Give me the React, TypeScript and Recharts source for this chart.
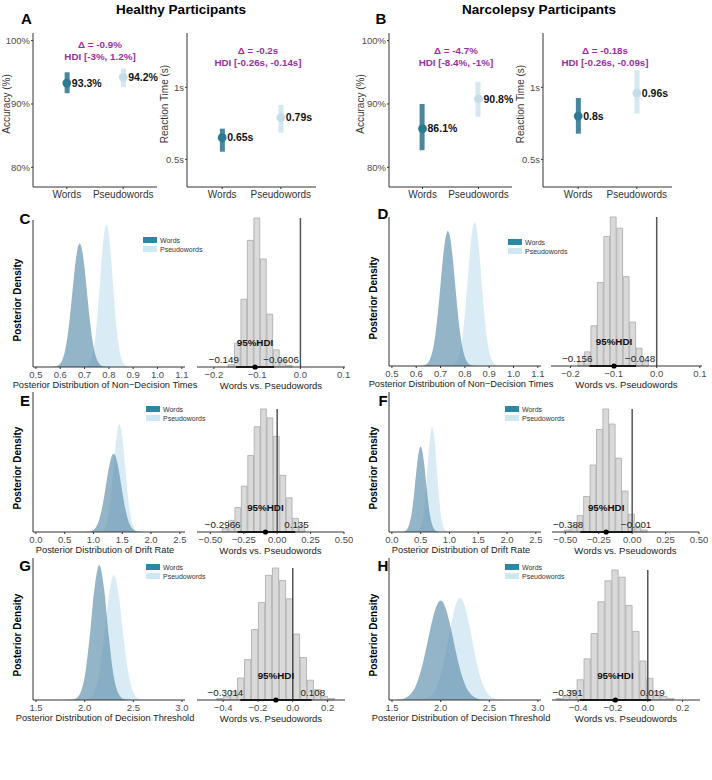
import React from 'react';
import {
  ComposedChart,
  Area,
  Bar,
  Cell,
  Line,
  XAxis,
  YAxis,
  ReferenceLine,
  ReferenceDot,
  LabelList,
} from 'recharts';

const FONT = '"Liberation Sans", Arial, Helvetica, sans-serif';
const MINUS = '\u2212';

const conditions = ['Words', 'Pseudowords'];

// posterior means and 95% HDI of accuracy / reaction time
const accHealthyMean = [93.3, 94.2];
const accHealthyLow = [91.7, 92.7];
const accHealthyHigh = [95.0, 95.6];
const rtHealthyMean = [0.65, 0.79];
const rtHealthyLow = [0.553, 0.686];
const rtHealthyHigh = [0.713, 0.877];
const accNarcoMean = [86.1, 90.8];
const accNarcoLow = [82.7, 88.0];
const accNarcoHigh = [90.0, 93.5];
const rtNarcoMean = [0.8, 0.96];
const rtNarcoLow = [0.678, 0.818];
const rtNarcoHigh = [0.926, 1.118];

const accTicks = [80, 90, 100];
const rtTicks = [0.5, 1];

// non-decision time posteriors
const ndtHealthyGrid = [0.56, 0.57, 0.58, 0.59, 0.6, 0.61, 0.62, 0.63, 0.64, 0.65, 0.66, 0.67, 0.68, 0.69, 0.7, 0.71, 0.72, 0.73, 0.74, 0.75, 0.76, 0.77, 0.78, 0.79, 0.8, 0.81, 0.82, 0.83, 0.84, 0.85, 0.86, 0.87, 0.88, 0.89, 0.9];
const ndtHealthyWords = [0, 0.001, 0.003, 0.009, 0.024, 0.055, 0.113, 0.209, 0.345, 0.51, 0.673, 0.795, 0.84, 0.795, 0.673, 0.51, 0.345, 0.209, 0.113, 0.055, 0.024, 0.009, 0.003, 0.001, 0, 0, 0, 0, 0, 0, 0, 0, 0, 0, 0];
const ndtHealthyPseudo = [0, 0, 0, 0, 0, 0, 0, 0, 0, 0, 0, 0, 0, 0.001, 0.002, 0.009, 0.026, 0.068, 0.152, 0.297, 0.499, 0.722, 0.901, 0.97, 0.901, 0.722, 0.499, 0.297, 0.152, 0.068, 0.026, 0.009, 0.002, 0.001, 0];
const ndtNarcoGrid = [0.61, 0.62, 0.63, 0.64, 0.65, 0.66, 0.67, 0.68, 0.69, 0.7, 0.71, 0.72, 0.73, 0.74, 0.75, 0.76, 0.77, 0.78, 0.79, 0.8, 0.81, 0.82, 0.83, 0.84, 0.85, 0.86, 0.87, 0.88, 0.89, 0.9, 0.91, 0.92, 0.93, 0.94, 0.95, 0.96];
const ndtNarcoWords = [0, 0.001, 0.004, 0.01, 0.026, 0.06, 0.122, 0.226, 0.372, 0.55, 0.726, 0.857, 0.906, 0.857, 0.726, 0.55, 0.372, 0.226, 0.122, 0.06, 0.026, 0.01, 0.004, 0.001, 0, 0, 0, 0, 0, 0, 0, 0, 0, 0, 0, 0];
const ndtNarcoPseudo = [0, 0, 0, 0, 0, 0, 0, 0, 0, 0, 0, 0, 0.001, 0.002, 0.006, 0.016, 0.043, 0.098, 0.196, 0.348, 0.544, 0.749, 0.906, 0.966, 0.906, 0.749, 0.544, 0.348, 0.196, 0.098, 0.043, 0.016, 0.006, 0.002, 0.001, 0];

// drift rate posteriors
const driftHealthyGrid = [0.85, 0.9, 0.95, 1.0, 1.05, 1.1, 1.15, 1.2, 1.25, 1.3, 1.35, 1.4, 1.45, 1.5, 1.55, 1.6, 1.65, 1.7, 1.75, 1.8, 1.85];
const driftHealthyWords = [0, 0.001, 0.005, 0.015, 0.039, 0.088, 0.171, 0.288, 0.417, 0.52, 0.56, 0.52, 0.417, 0.288, 0.171, 0.088, 0.039, 0.015, 0.005, 0.001, 0];
const driftHealthyPseudo = [0, 0, 0, 0, 0, 0.002, 0.008, 0.034, 0.104, 0.25, 0.467, 0.679, 0.77, 0.679, 0.467, 0.25, 0.104, 0.034, 0.008, 0.002, 0];
const driftNarcoGrid = [0.15, 0.2, 0.25, 0.3, 0.35, 0.4, 0.45, 0.5, 0.55, 0.6, 0.65, 0.7, 0.75, 0.8, 0.85, 0.9, 0.95, 1.0, 1.05];
const driftNarcoWords = [0, 0.002, 0.013, 0.052, 0.152, 0.329, 0.523, 0.61, 0.523, 0.329, 0.152, 0.052, 0.013, 0.002, 0, 0, 0, 0, 0];
const driftNarcoPseudo = [0, 0, 0, 0, 0, 0.001, 0.006, 0.033, 0.129, 0.344, 0.617, 0.75, 0.617, 0.344, 0.129, 0.033, 0.006, 0.001, 0];

// decision threshold posteriors
const bndHealthyGrid = [1.8, 1.85, 1.9, 1.95, 2.0, 2.05, 2.1, 2.15, 2.2, 2.25, 2.3, 2.35, 2.4, 2.45, 2.5, 2.55, 2.6, 2.65];
const bndHealthyWords = [0, 0.001, 0.007, 0.042, 0.163, 0.435, 0.782, 0.95, 0.782, 0.435, 0.163, 0.042, 0.007, 0.001, 0, 0, 0, 0];
const bndHealthyPseudo = [0, 0, 0, 0, 0.002, 0.011, 0.055, 0.186, 0.441, 0.74, 0.88, 0.74, 0.441, 0.186, 0.055, 0.011, 0.002, 0];
const bndNarcoGrid = [1.45, 1.5, 1.55, 1.6, 1.65, 1.7, 1.75, 1.8, 1.85, 1.9, 1.95, 2.0, 2.05, 2.1, 2.15, 2.2, 2.25, 2.3, 2.35, 2.4, 2.45, 2.5, 2.55, 2.6, 2.65, 2.7, 2.75];
const bndNarcoWords = [0, 0, 0.002, 0.006, 0.019, 0.049, 0.11, 0.214, 0.36, 0.521, 0.65, 0.7, 0.65, 0.521, 0.36, 0.214, 0.11, 0.049, 0.019, 0.006, 0.002, 0, 0, 0, 0, 0, 0];
const bndNarcoPseudo = [0, 0, 0, 0, 0, 0, 0.001, 0.003, 0.01, 0.032, 0.082, 0.179, 0.33, 0.509, 0.66, 0.72, 0.66, 0.509, 0.33, 0.179, 0.082, 0.032, 0.01, 0.003, 0.001, 0, 0];

// posterior differences (words - pseudowords): bin centres and counts
const ndtHealthyDiffBins = [-0.16, -0.145, -0.13, -0.115, -0.1, -0.085, -0.07, -0.055, -0.04, -0.025];
const ndtHealthyDiffCounts = [3, 32, 91, 170, 200, 145, 71, 23, 9, 2];
const ndtNarcoDiffBins = [-0.175, -0.16, -0.145, -0.13, -0.115, -0.1, -0.085, -0.07, -0.055, -0.04, -0.025];
const ndtNarcoDiffCounts = [6, 19, 54, 112, 174, 200, 185, 120, 59, 24, 6];
const driftHealthyDiffBins = [-0.388, -0.34, -0.292, -0.244, -0.196, -0.148, -0.1, -0.052, -0.004, 0.044, 0.092, 0.14, 0.188];
const driftHealthyDiffCounts = [5, 17, 36, 67, 112, 154, 180, 167, 140, 83, 50, 20, 9];
const driftNarcoDiffBins = [-0.483, -0.435, -0.387, -0.339, -0.291, -0.243, -0.195, -0.147, -0.099, -0.051, -0.003, 0.045, 0.093];
const driftNarcoDiffCounts = [3, 9, 24, 52, 98, 150, 180, 158, 108, 60, 26, 8, 3];
const bndHealthyDiffBins = [-0.417, -0.377, -0.337, -0.297, -0.257, -0.217, -0.177, -0.137, -0.097, -0.057, -0.017, 0.023, 0.063, 0.103, 0.143, 0.183, 0.223];
const bndHealthyDiffCounts = [2, 5, 12, 30, 55, 96, 133, 170, 180, 163, 138, 90, 58, 27, 14, 5, 2];
const bndNarcoDiffBins = [-0.506, -0.466, -0.426, -0.386, -0.346, -0.306, -0.266, -0.226, -0.186, -0.146, -0.106, -0.066, -0.026, 0.014, 0.054, 0.094, 0.134];
const bndNarcoDiffCounts = [2, 6, 13, 28, 57, 92, 136, 165, 180, 170, 131, 95, 54, 30, 12, 5, 2];

// lower bound, mean and upper bound of each difference
const ndtHealthyHdi = [-0.149, -0.105, -0.0606];
const ndtNarcoHdi = [-0.156, -0.099, -0.048];
const driftHealthyHdi = [-0.2966, -0.088, 0.135];
const driftNarcoHdi = [-0.388, -0.195, -0.001];
const bndHealthyHdi = [-0.3014, -0.097, 0.108];
const bndNarcoHdi = [-0.391, -0.186, 0.019];

const WORD_DOT = '#2b7a91';
const WORD_BAR = '#4a879c';
const PSEUDO_DOT = '#c3deea';
const PSEUDO_BAR = '#d3e8f1';
const WORD_FILL = '#5b8eab';
const PSEUDO_FILL = '#d9ecf6';
const WORD_KEY = '#2c87a5';
const PSEUDO_KEY = '#cfe7f3';
const PURPLE = '#9a2fa3';
const AXIS = { stroke: '#333', strokeWidth: 1 };
const tickStyle = { fontSize: 9.5, fill: '#4d4d4d', fontFamily: FONT };

const signed = (digits: number) => (v: number) =>
  (v < 0 ? MINUS : '') + Math.abs(v).toFixed(digits);

function Txt({ x, y, children, size = 10, weight = 400, color = '#000', anchor = 'middle', rotate = false }: any) {
  const tx = anchor === 'middle' ? '-50%' : anchor === 'end' ? '-100%' : '0';
  return (
    <div
      style={{
        position: 'absolute',
        left: x,
        top: y,
        transform: `translate(${tx}, -50%)${rotate ? ' rotate(-90deg)' : ''}`,
        fontSize: size,
        fontWeight: weight,
        color,
        fontFamily: FONT,
        whiteSpace: 'nowrap',
        lineHeight: 1,
      }}
    >
      {children}
    </div>
  );
}

function SummaryPanel({ x0, x1, yw, domain, ticks, unit, mean, low, high }: any) {
  const left = x0 - yw;
  const width = x1 + 13 - left;
  const data = conditions.map((name, i) => ({
    pos: i + 1,
    name,
    mean: mean[i],
    range: [low[i], high[i]],
    label: `${mean[i]}${unit}`,
  }));
  const dotColors = [WORD_DOT, PSEUDO_DOT];
  const barColors = [WORD_BAR, PSEUDO_BAR];
  return (
    <div style={{ position: 'absolute', left, top: 0 }}>
      <ComposedChart width={width} height={210} data={data} margin={{ top: 33, right: 13, bottom: 3, left: 0 }}>
        <XAxis
          type="number"
          dataKey="pos"
          domain={[0.4, 2.6]}
          ticks={[1, 2]}
          interval={0}
          tickFormatter={(v: number) => conditions[v - 1]}
          height={20}
          tickSize={2}
          axisLine={AXIS}
          tickLine={AXIS}
          tick={{ fontSize: 10, fill: '#333', fontFamily: FONT }}
        />
        <YAxis
          type="number"
          domain={domain}
          ticks={ticks}
          interval={0}
          allowDataOverflow
          width={yw}
          tickSize={2}
          tickMargin={1}
          axisLine={AXIS}
          tickLine={AXIS}
          tickFormatter={(v: number) => `${v}${unit}`}
          tick={tickStyle}
        />
        <Bar dataKey="range" barSize={5} isAnimationActive={false}>
          {data.map((d, i) => (
            <Cell key={d.name} fill={barColors[i]} />
          ))}
        </Bar>
        <Line
          dataKey="mean"
          stroke="none"
          isAnimationActive={false}
          dot={(p: any) => <circle key={`d${p.index}`} cx={p.cx} cy={p.cy} r={4.4} fill={dotColors[p.index]} />}
          activeDot={false}
        >
          <LabelList
            dataKey="label"
            content={(p: any) => (
              <text x={p.x + 5} y={p.y} dy="0.35em" fontSize={10.5} fontWeight={700} fontFamily={FONT} fill="#111">
                {p.value}
              </text>
            )}
          />
        </Line>
      </ComposedChart>
    </div>
  );
}

function DensityPanel({ x0, x1, y0, y1, domain, ticks, grid, words, pseudo }: any) {
  const yw = 33;
  const mt = 4;
  const mr = 6;
  const left = x0 - yw;
  const top = y0 - mt;
  const width = x1 + mr - left;
  const height = y1 - top + 18;
  const data = grid.map((x: number, i: number) => ({ x, words: words[i], pseudo: pseudo[i] }));
  return (
    <div style={{ position: 'absolute', left, top }}>
      <ComposedChart width={width} height={height} data={data} margin={{ top: mt, right: mr, bottom: 2, left: 0 }}>
        <XAxis
          type="number"
          dataKey="x"
          domain={domain}
          ticks={ticks}
          interval={0}
          allowDataOverflow
          tickFormatter={(v: number) => v.toFixed(1)}
          height={16}
          tickSize={2}
          axisLine={AXIS}
          tickLine={AXIS}
          tick={tickStyle}
        />
        <YAxis type="number" domain={[0, 1]} width={yw} tick={false} tickLine={false} axisLine={AXIS} />
        <Area type="monotone" dataKey="pseudo" stroke="none" fill={PSEUDO_FILL} fillOpacity={1} isAnimationActive={false} activeDot={false} />
        <Area type="monotone" dataKey="words" stroke="none" fill={WORD_FILL} fillOpacity={0.65} isAnimationActive={false} activeDot={false} />
      </ComposedChart>
    </div>
  );
}

function DiffPanel({ x0, x1, y0, y1, domain, ticks, digits, bins, counts, binWidth, hdi, loText, hiText }: any) {
  const ml = 4;
  const mr = 9;
  const mt = 2;
  const left = x0 - ml;
  const top = y0 - mt;
  const width = x1 + mr - left;
  const height = y1 - top + 18;
  const barPx = (binWidth * (x1 - x0)) / (domain[1] - domain[0]);
  const data = bins.map((x: number, i: number) => ({ x, count: counts[i] }));
  const [lo, mean, hi] = hdi;
  const txt = { fontFamily: FONT, fontSize: 9.8 };
  return (
    <div style={{ position: 'absolute', left, top }}>
      <ComposedChart width={width} height={height} data={data} margin={{ top: mt, right: mr, bottom: 2, left: ml }}>
        <XAxis
          type="number"
          dataKey="x"
          domain={domain}
          ticks={ticks}
          interval={0}
          allowDataOverflow
          tickFormatter={signed(digits)}
          height={16}
          tickSize={2}
          axisLine={AXIS}
          tickLine={AXIS}
          tick={tickStyle}
        />
        <YAxis hide type="number" domain={[0, 'dataMax']} />
        <Bar dataKey="count" barSize={barPx} fill="#d9d9d9" stroke="#a9a9a9" strokeWidth={0.8} isAnimationActive={false} />
        <ReferenceLine x={0} stroke="#555" strokeWidth={1.5} />
        <ReferenceLine segment={[{ x: lo, y: 0 }, { x: hi, y: 0 }]} stroke="#000" strokeWidth={2.2} />
        <ReferenceDot
          x={mean}
          y={0}
          r={2.6}
          fill="#000"
          stroke="none"
          label={{
            content: (p: any) => (
              <text x={p.viewBox.x + p.viewBox.width / 2} y={p.viewBox.y - 18} textAnchor="middle" {...txt} fontWeight={700} fill="#111">
                95%HDI
              </text>
            ),
          }}
        />
        <ReferenceDot
          x={lo}
          y={0}
          r={0}
          label={{
            content: (p: any) => (
              <text x={p.viewBox.x + 3} y={p.viewBox.y - 4} textAnchor="end" {...txt} fill="#222">
                {loText}
              </text>
            ),
          }}
        />
        <ReferenceDot
          x={hi}
          y={0}
          r={0}
          label={{
            content: (p: any) => (
              <text x={p.viewBox.x - 11} y={p.viewBox.y - 4} textAnchor="start" {...txt} fill="#222">
                {hiText}
              </text>
            ),
          }}
        />
      </ComposedChart>
    </div>
  );
}

function Legend({ x, y }: any) {
  const row = (dy: number, color: string, label: string) => (
    <>
      <div style={{ position: 'absolute', left: x, top: y + dy - 3, width: 14, height: 6, background: color }} />
      <Txt x={x + 17} y={y + dy} size={7} color="#333" anchor="start">
        {label}
      </Txt>
    </>
  );
  return (
    <>
      {row(0, WORD_KEY, 'Words')}
      {row(9, PSEUDO_KEY, 'Pseudowords')}
    </>
  );
}

const summaryPanels = [
  { x0: 33, x1: 157, yw: 33, domain: [76.9, 101.2], ticks: accTicks, unit: '%', mean: accHealthyMean, low: accHealthyLow, high: accHealthyHigh, yLabel: 'Accuracy (%)', lx: 7, note: ['\u0394 = -0.9%', 'HDI [-3%, 1.2%]'], nx: 100, ny: 45 },
  { x0: 187, x1: 316, yw: 37, domain: [0.308, 1.377], ticks: rtTicks, unit: 's', mean: rtHealthyMean, low: rtHealthyLow, high: rtHealthyHigh, yLabel: 'Reaction Time (s)', lx: 165, note: ['\u0394 = -0.2s', 'HDI [-0.26s, -0.14s]'], nx: 258, ny: 51 },
  { x0: 389, x1: 512, yw: 34, domain: [76.9, 101.2], ticks: accTicks, unit: '%', mean: accNarcoMean, low: accNarcoLow, high: accNarcoHigh, yLabel: 'Accuracy (%)', lx: 361, note: ['\u0394 = -4.7%', 'HDI [-8.4%, -1%]'], nx: 456, ny: 51 },
  { x0: 543, x1: 672, yw: 38, domain: [0.308, 1.377], ticks: rtTicks, unit: 's', mean: rtNarcoMean, low: rtNarcoLow, high: rtNarcoHigh, yLabel: 'Reaction Time (s)', lx: 521, note: ['\u0394 = -0.18s', 'HDI [-0.26s, -0.09s]'], nx: 605, ny: 51 },
];

const densityPanels = [
  { x0: 33, x1: 185, y0: 220, y1: 367, domain: [0.488, 1.113], ticks: [0.5, 0.6, 0.7, 0.8, 0.9, 1.0, 1.1], grid: ndtHealthyGrid, words: ndtHealthyWords, pseudo: ndtHealthyPseudo, title: 'Posterior Distribution of Non\u2212Decision Times', legend: [143, 240] },
  { x0: 389, x1: 541, y0: 217, y1: 366, domain: [0.488, 1.113], ticks: [0.5, 0.6, 0.7, 0.8, 0.9, 1.0, 1.1], grid: ndtNarcoGrid, words: ndtNarcoWords, pseudo: ndtNarcoPseudo, title: 'Posterior Distribution of Non\u2212Decision Times', legend: [508, 242] },
  { x0: 33, x1: 185, y0: 392, y1: 532, domain: [-0.05, 2.59], ticks: [0, 0.5, 1, 1.5, 2, 2.5], grid: driftHealthyGrid, words: driftHealthyWords, pseudo: driftHealthyPseudo, title: 'Posterior Distribution of Drift Rate', legend: [146, 409] },
  { x0: 389, x1: 541, y0: 392, y1: 532, domain: [-0.05, 2.59], ticks: [0, 0.5, 1, 1.5, 2, 2.5], grid: driftNarcoGrid, words: driftNarcoWords, pseudo: driftNarcoPseudo, title: 'Posterior Distribution of Drift Rate', legend: [505, 409] },
  { x0: 33, x1: 185, y0: 558, y1: 700, domain: [1.469, 3.031], ticks: [1.5, 2, 2.5, 3], grid: bndHealthyGrid, words: bndHealthyWords, pseudo: bndHealthyPseudo, title: 'Posterior Distribution of Decision Threshold', legend: [146, 567] },
  { x0: 389, x1: 541, y0: 558, y1: 700, domain: [1.469, 3.031], ticks: [1.5, 2, 2.5, 3], grid: bndNarcoGrid, words: bndNarcoWords, pseudo: bndNarcoPseudo, title: 'Posterior Distribution of Decision Threshold', legend: [505, 567] },
];

const diffPanels = [
  { x0: 197, x1: 345, y0: 218, y1: 367, domain: [-0.239, 0.103], ticks: [-0.2, -0.1, 0, 0.1], digits: 1, bins: ndtHealthyDiffBins, counts: ndtHealthyDiffCounts, binWidth: 0.015, hdi: ndtHealthyHdi, loText: `${MINUS}0.149`, hiText: `${MINUS}0.0606` },
  { x0: 551, x1: 702, y0: 217, y1: 366, domain: [-0.245, 0.105], ticks: [-0.2, -0.1, 0, 0.1], digits: 1, bins: ndtNarcoDiffBins, counts: ndtNarcoDiffCounts, binWidth: 0.015, hdi: ndtNarcoHdi, loText: `${MINUS}0.156`, hiText: `${MINUS}0.048` },
  { x0: 197, x1: 344, y0: 409, y1: 532, domain: [-0.6, 0.5], ticks: [-0.5, -0.25, 0, 0.25, 0.5], digits: 2, bins: driftHealthyDiffBins, counts: driftHealthyDiffCounts, binWidth: 0.048, hdi: driftHealthyHdi, loText: `${MINUS}0.2966`, hiText: '0.135' },
  { x0: 552, x1: 699, y0: 409, y1: 532, domain: [-0.6, 0.5], ticks: [-0.5, -0.25, 0, 0.25, 0.5], digits: 2, bins: driftNarcoDiffBins, counts: driftNarcoDiffCounts, binWidth: 0.048, hdi: driftNarcoHdi, loText: `${MINUS}0.388`, hiText: `${MINUS}0.001` },
  { x0: 197, x1: 345, y0: 568, y1: 700, domain: [-0.55, 0.3], ticks: [-0.4, -0.2, 0, 0.2], digits: 1, bins: bndHealthyDiffBins, counts: bndHealthyDiffCounts, binWidth: 0.04, hdi: bndHealthyHdi, loText: `${MINUS}0.3014`, hiText: '0.108' },
  { x0: 552, x1: 700, y0: 570, y1: 700, domain: [-0.55, 0.3], ticks: [-0.4, -0.2, 0, 0.2], digits: 1, bins: bndNarcoDiffBins, counts: bndNarcoDiffCounts, binWidth: 0.04, hdi: bndNarcoHdi, loText: `${MINUS}0.391`, hiText: '0.019' },
];

const panelLetters: [string, number, number][] = [
  ['A', 26.5, 18],
  ['B', 381, 18],
  ['C', 25, 218],
  ['D', 383, 213],
  ['E', 25, 400],
  ['F', 383, 400],
  ['G', 25, 565],
  ['H', 383, 565],
];

export default function App() {
  return (
    <div style={{ position: 'absolute', left: 0, top: 0, width: 712, height: 780, background: '#fff', overflow: 'hidden' }}>
      <Txt x={181} y={10} size={13.5} weight={700}>Healthy Participants</Txt>
      <Txt x={539} y={10} size={13.5} weight={700}>Narcolepsy Participants</Txt>
      {panelLetters.map(([l, x, y]) => (
        <Txt key={l} x={x} y={y} size={15} weight={700}>{l}</Txt>
      ))}

      {summaryPanels.map((p, i) => (
        <React.Fragment key={`s${i}`}>
          <SummaryPanel {...p} />
          <Txt x={p.lx} y={104} size={10} color="#3a3a3a" rotate>{p.yLabel}</Txt>
          <Txt x={p.nx} y={p.ny} size={9.8} weight={700} color={PURPLE}>{p.note[0]}</Txt>
          <Txt x={p.nx} y={p.ny + 12} size={9.8} weight={700} color={PURPLE}>{p.note[1]}</Txt>
        </React.Fragment>
      ))}

      {densityPanels.map((p, i) => (
        <React.Fragment key={`d${i}`}>
          <DensityPanel {...p} />
          <Txt x={p.x0 - 15} y={(p.y0 + p.y1) / 2 + 6} size={10} weight={700} rotate>Posterior Density</Txt>
          <Txt x={(p.x0 + p.x1) / 2 - 4} y={p.y1 + 19} size={9.3} color="#222">{p.title}</Txt>
          <Legend x={p.legend[0]} y={p.legend[1]} />
        </React.Fragment>
      ))}

      {diffPanels.map((p, i) => (
        <React.Fragment key={`h${i}`}>
          <DiffPanel {...p} />
          <Txt x={(p.x0 + p.x1) / 2} y={p.y1 + 19} size={9.5} color="#222">Words vs. Pseudowords</Txt>
        </React.Fragment>
      ))}
    </div>
  );
}
